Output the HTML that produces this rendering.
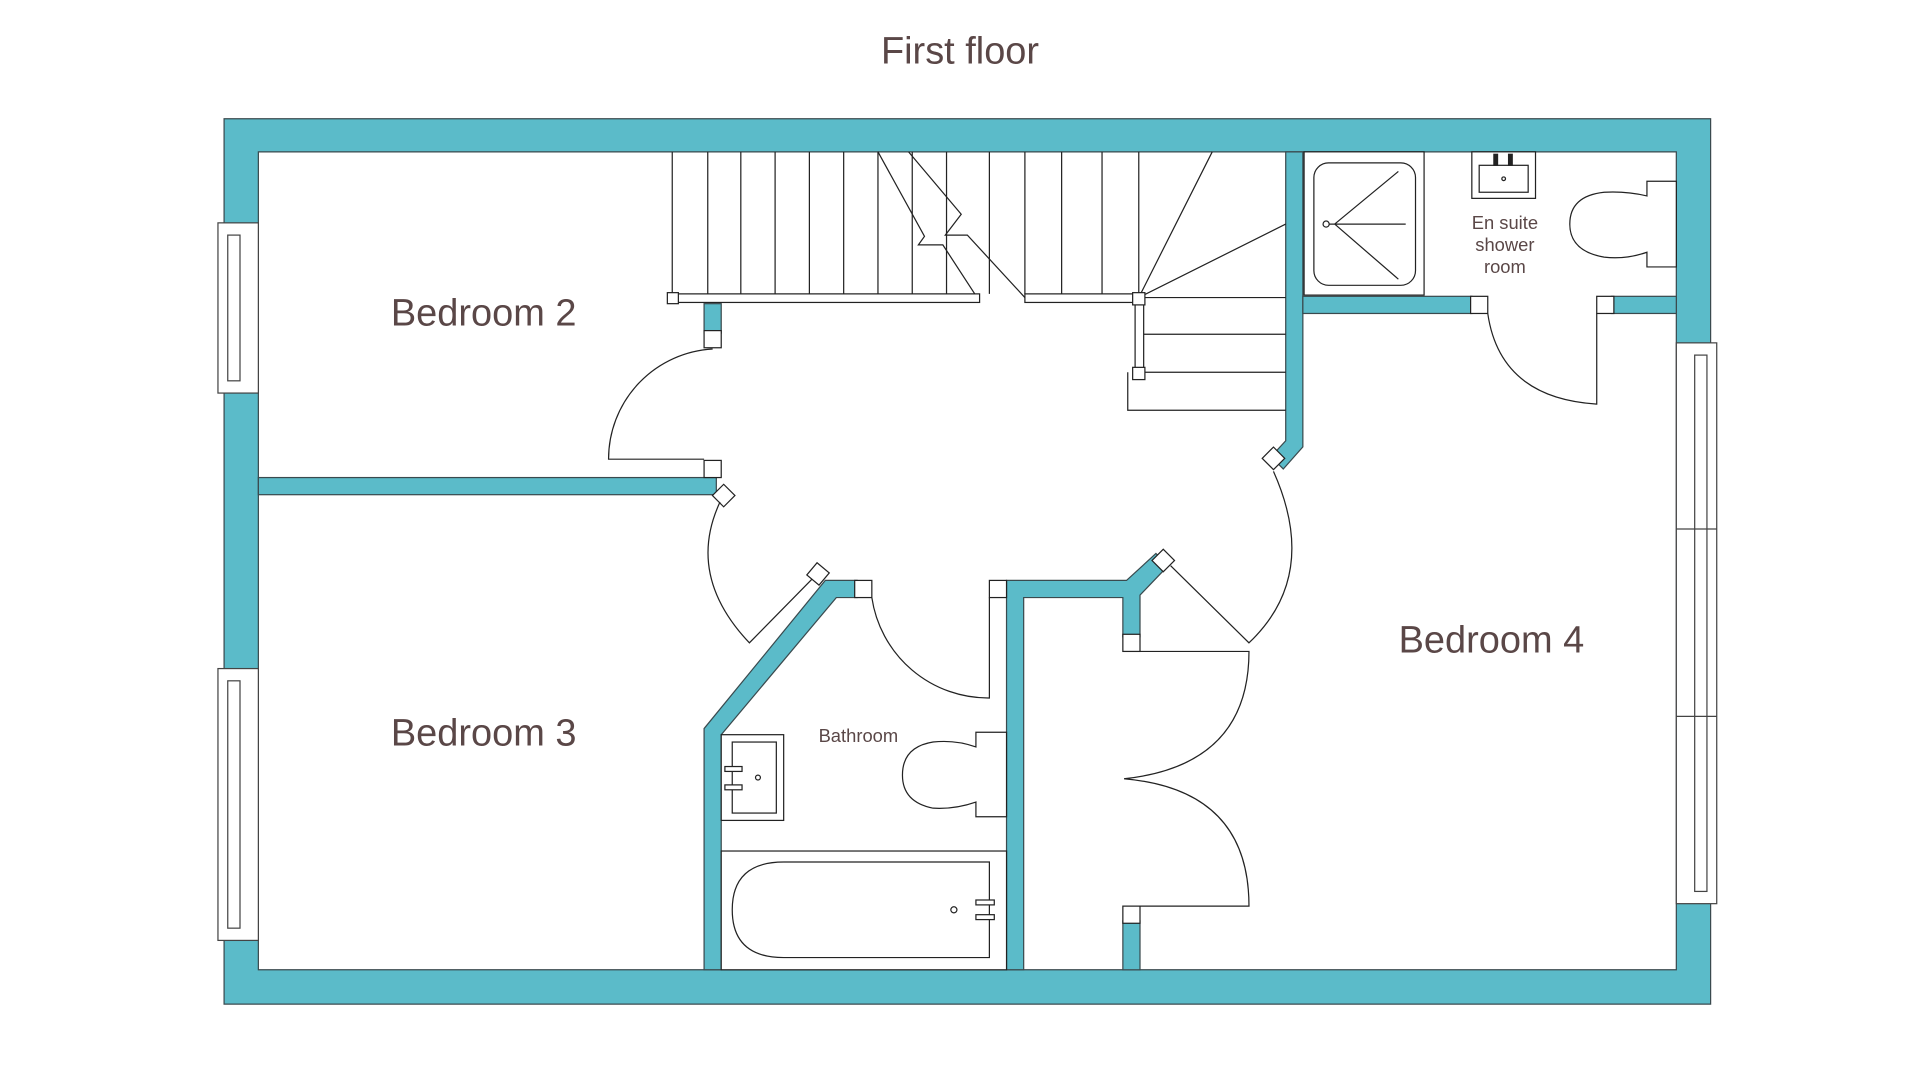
<!DOCTYPE html>
<html><head><meta charset="utf-8"><style>
html,body{margin:0;padding:0;background:#fff;}
svg{display:block;}
text{font-family:"Liberation Sans","DejaVu Sans",sans-serif;fill:#5a4747;}
</style></head><body>
<svg width="1920" height="1080" viewBox="0 0 1568 882" xmlns="http://www.w3.org/2000/svg">
<g stroke="#3a4a4e" stroke-width="1">
<path fill="#5bbbc9" fill-rule="evenodd" d="M183 97H1397V820H183Z M211 124H1369V792H211Z"/>
<g fill="#5bbbc9">
<rect x="211" y="390" width="374" height="14"/>
<rect x="575" y="248" width="14" height="24"/>
<path d="M1050 124H1064V365L1048 383L1038 373L1050 360Z"/>
<rect x="1064" y="242" width="138" height="14"/>
<rect x="1316" y="242" width="53" height="14"/>
<path d="M575 595L674 474H700V488H683L589 600V792H575Z"/>
<path d="M822 474H920L944 452L954 462L931 486V520H917V488H836V792H822Z"/>
<rect x="917" y="752" width="14" height="40"/>
</g>
</g>
<g fill="#fff" stroke="#444" stroke-width="1">
<rect x="178" y="182" width="33" height="139"/><rect x="186" y="192" width="10" height="119"/>
<rect x="178" y="546" width="33" height="222"/><rect x="186" y="556" width="10" height="202"/>
<rect x="1369" y="280" width="33" height="458"/><rect x="1384" y="290" width="10" height="438"/>
<line x1="1369" y1="432" x2="1402" y2="432"/><line x1="1369" y1="585" x2="1402" y2="585"/>
</g>
<g fill="none" stroke="#222" stroke-width="1">
<line x1="549" y1="124" x2="549" y2="240"/>
<path d="M578 124V240M605 124V240M633 124V240M661 124V240M689 124V240M717 124V240M745 124V240M773 124V240M808 124V240M837 124V240M867 124V240M900 124V240M930 124V240"/>
<path d="M717 124L755 193L750 200L770 200L798 243M742 124L785 175L772 192L790 192L837 243"/>
<rect x="549" y="240" width="251" height="7" fill="#fff"/>
<rect x="837" y="240" width="93" height="7" fill="#fff"/>
<path d="M930 243L990 124M930 243L1050 183"/>
<path d="M930 243H1050M934 273H1050M934 304H1050M921 304V335H1050"/>
<rect x="927" y="243" width="7" height="61" fill="#fff"/>
<rect x="545" y="239" width="9" height="9" fill="#fff"/>
<rect x="925" y="239" width="10" height="10" fill="#fff"/>
<rect x="925" y="300" width="10" height="10" fill="#fff"/>
</g>
<g fill="none" stroke="#222" stroke-width="1">
<rect x="575" y="270" width="14" height="14" fill="#fff"/>
<path d="M582 285A90 90 0 0 0 497 375H575"/>
<rect x="575" y="376" width="14" height="14" fill="#fff"/>
<rect x="585" y="398" width="13" height="13" fill="#fff" transform="rotate(45 591 404)"/>
<path d="M588 410Q560 470 612 525L668 468"/>
<rect x="662" y="462" width="13" height="13" fill="#fff" transform="rotate(40 668 468)"/>
<rect x="698" y="474" width="14" height="14" fill="#fff"/>
<path d="M712 488A96 96 0 0 0 808 570V488"/>
<rect x="808" y="474" width="14" height="14" fill="#fff"/>
<rect x="944" y="451" width="13" height="13" fill="#fff" transform="rotate(45 950 457)"/>
<path d="M956 462L1020 525Q1078 470 1040 385"/>
<rect x="1034" y="368" width="13" height="13" fill="#fff" transform="rotate(-45 1040 375)"/>
<rect x="917" y="518" width="14" height="14" fill="#fff"/>
<rect x="917" y="740" width="14" height="14" fill="#fff"/>
<path d="M931 532H1020Q1020 625 918 636Q1020 645 1020 740H931"/>
<rect x="1201" y="242" width="14" height="14" fill="#fff"/>
<rect x="1304" y="242" width="14" height="14" fill="#fff"/>
<path d="M1215 256Q1225 325 1304 330V256"/>
</g>
<g fill="#fff" stroke="#222" stroke-width="1">
<rect x="1065" y="124" width="98" height="117"/>
<rect x="1073" y="133" width="83" height="100" rx="12"/>
<path d="M1083 183H1148M1090 183L1142 140M1090 183L1142 228" fill="none"/>
<circle cx="1083" cy="183" r="2.5"/>
<rect x="1202" y="124" width="52" height="38"/>
<rect x="1208" y="135" width="40" height="22"/>
<circle cx="1228" cy="146" r="1.5"/>
<rect x="1220" y="126" width="3" height="9" fill="#222"/><rect x="1232" y="126" width="3" height="9" fill="#222"/>
<path d="M1345 148H1369V218H1345V206Q1328 212 1310 210Q1282 205 1282 183Q1282 160 1310 157Q1328 156 1345 160Z"/>
</g>
<g fill="#fff" stroke="#222" stroke-width="1">
<rect x="589" y="600" width="51" height="70"/>
<rect x="598" y="606" width="36" height="58"/>
<circle cx="619" cy="635" r="2"/>
<rect x="592" y="626" width="14" height="4"/><rect x="592" y="641" width="14" height="4"/>
<path d="M797 598H822V667H797V655Q780 661 762 660Q737 655 737 633Q737 610 762 606Q780 604 797 610Z"/>
<rect x="589" y="695" width="233" height="97"/>
<path d="M640 704H808V782H640Q598 782 598 743Q598 704 640 704Z"/>
<circle cx="779" cy="743" r="2.5"/>
<rect x="797" y="735" width="15" height="4"/><rect x="797" y="747" width="15" height="4"/>
</g>
<text x="784" y="52" font-size="31" text-anchor="middle">First floor</text>
<text x="395" y="266" font-size="31" text-anchor="middle">Bedroom 2</text>
<text x="395" y="609" font-size="31" text-anchor="middle">Bedroom 3</text>
<text x="1218" y="533" font-size="31" text-anchor="middle">Bedroom 4</text>
<text x="701" y="606" font-size="15" text-anchor="middle">Bathroom</text>
<text x="1229" y="187" font-size="15" text-anchor="middle">En suite</text>
<text x="1229" y="205" font-size="15" text-anchor="middle">shower</text>
<text x="1229" y="223" font-size="15" text-anchor="middle">room</text>
</svg>
</body></html>
